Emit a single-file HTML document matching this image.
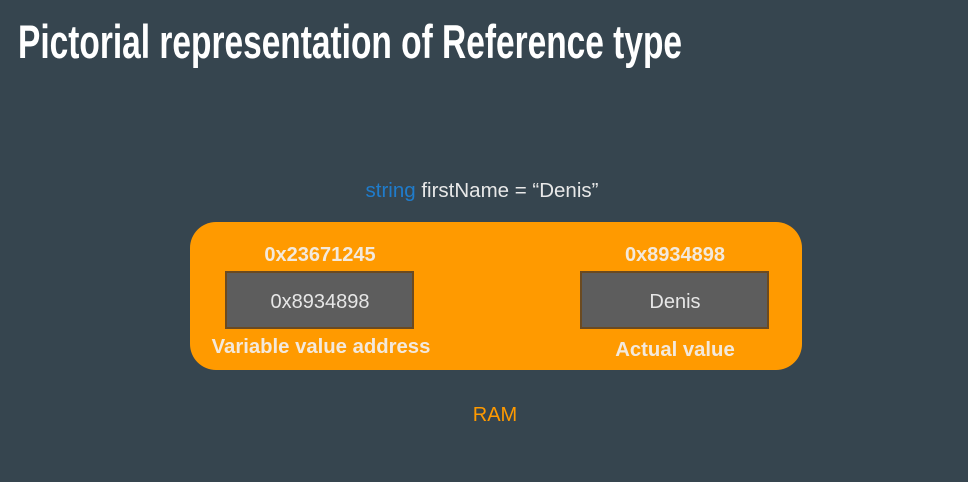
<!DOCTYPE html>
<html><head><style>
body{margin:0;width:968px;height:477px;background:#36454f;overflow:hidden}
</style></head><body>
<svg width="968" height="477" xmlns="http://www.w3.org/2000/svg">
<rect width="968" height="477" fill="#36454f"/>
<text x="18" y="58" font-family="Liberation Sans Narrow, Liberation Sans, sans-serif" font-size="47" font-weight="bold" fill="#fff" textLength="664" lengthAdjust="spacingAndGlyphs">Pictorial representation of Reference type</text>
<text x="482" y="197" text-anchor="middle" font-family="Liberation Sans, sans-serif" font-size="20.5" fill="#e8e8e8"><tspan fill="#1f7ccc">string</tspan> firstName = “Denis”</text>
<rect x="190" y="222" width="612" height="148" rx="26" fill="#ff9a00"/>
<rect x="226" y="272" width="187" height="56" fill="#5d5d5d" stroke="#6b4a20" stroke-width="2"/>
<rect x="581" y="272" width="187" height="56" fill="#5d5d5d" stroke="#6b4a20" stroke-width="2"/>
<g font-family="Liberation Sans, sans-serif" text-anchor="middle">
<text x="320" y="261" font-size="20" font-weight="bold" fill="#f3e9dc">0x23671245</text>
<text x="675" y="261" font-size="20" font-weight="bold" fill="#f3e9dc">0x8934898</text>
<text x="320" y="308" font-size="20" fill="#e6e6e6">0x8934898</text>
<text x="675" y="308" font-size="20" fill="#e6e6e6">Denis</text>
<text x="321" y="353" font-size="20.3" font-weight="bold" fill="#f3e9dc">Variable value address</text>
<text x="675" y="356" font-size="20.3" font-weight="bold" fill="#f3e9dc">Actual value</text>
<text x="495" y="421" font-size="20" fill="#ff9a00">RAM</text>
</g>
</svg>
</body></html>
